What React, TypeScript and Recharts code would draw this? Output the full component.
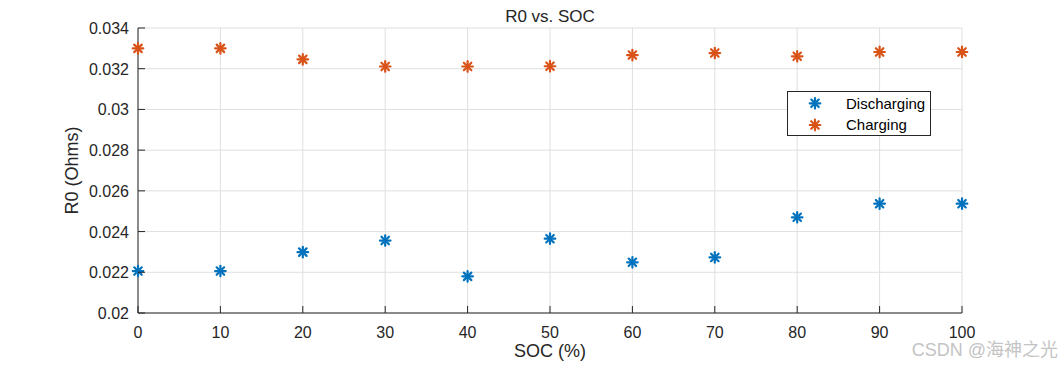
import React from "react";
import { ScatterChart, Scatter, XAxis, YAxis, CartesianGrid, Legend } from "recharts";

// values
const socLevels = [0, 10, 20, 30, 40, 50, 60, 70, 80, 90, 100];
const dischargingR0 = [0.02206, 0.02206, 0.02299, 0.02356, 0.0218, 0.02365, 0.02249, 0.02273, 0.0247, 0.02537, 0.02537];
const chargingR0 = [0.033, 0.033, 0.03246, 0.03211, 0.03211, 0.03212, 0.03267, 0.03277, 0.03261, 0.03282, 0.03282];
const xTicks = [0, 10, 20, 30, 40, 50, 60, 70, 80, 90, 100];
const yTicks = [0.02, 0.022, 0.024, 0.026, 0.028, 0.03, 0.032, 0.034];

const C = {
  text: "#262626",
  axis: "#262626",
  grid: "#dfdfdf",
  blue: "#0072bd",
  orange: "#d95319",
  watermark: "#c4c4c4",
} as const;

const FONT = "'Liberation Sans', Arial, Helvetica, sans-serif";
const W = 1063;
const H = 367;
// plot box
const PL = 138;
const PR = 962;
const PT = 28;
const PB = 313;
const TICK_LEN = 7;

const discharging = socLevels.map((s, i) => ({ soc: s, r0: dischargingR0[i] }));
const charging = socLevels.map((s, i) => ({ soc: s, r0: chargingR0[i] }));

function fmtY(v: number) {
  return String(Number(v.toFixed(3)));
}

function Asterisk(props: any) {
  const { cx, cy, color } = props;
  if (cx == null || cy == null) return null;
  const r = 5.3;
  const d = r * Math.SQRT1_2;
  return (
    <g stroke={color} strokeWidth={2.2} strokeLinecap="round">
      <line x1={cx - r} y1={cy} x2={cx + r} y2={cy} />
      <line x1={cx} y1={cy - r} x2={cx} y2={cy + r} />
      <line x1={cx - d} y1={cy - d} x2={cx + d} y2={cy + d} />
      <line x1={cx - d} y1={cy + d} x2={cx + d} y2={cy - d} />
    </g>
  );
}

function XTick(props: any) {
  const { x, y, payload } = props;
  return (
    <g>
      <line x1={x} y1={y} x2={x} y2={y - TICK_LEN} stroke={C.axis} strokeWidth={1} />
      <text x={x} y={y + 25} textAnchor="middle" fontFamily={FONT} fontSize={16} fill={C.text}>
        {payload.value}
      </text>
    </g>
  );
}

function YTick(props: any) {
  const { x, y, payload } = props;
  return (
    <g>
      <line x1={x} y1={y} x2={x + TICK_LEN} y2={y} stroke={C.axis} strokeWidth={1} />
      <text x={x - 9} y={y + 6} textAnchor="end" fontFamily={FONT} fontSize={16} fill={C.text}>
        {fmtY(payload.value)}
      </text>
    </g>
  );
}

function LegendBox() {
  const items = [
    { name: "Discharging", color: C.blue, y: 12.3, base: 18 },
    { name: "Charging", color: C.orange, y: 34, base: 39 },
  ];
  return (
    <svg width={144} height={45} style={{ display: "block" }}>
      <rect x={0.5} y={0.5} width={143} height={44} fill="#fff" stroke={C.axis} strokeWidth={1} />
      {items.map((it) => (
        <g key={it.name}>
          <Asterisk cx={28} cy={it.y} color={it.color} />
          <text x={59} y={it.base} fontFamily={FONT} fontSize={15} fill="#000">
            {it.name}
          </text>
        </g>
      ))}
    </svg>
  );
}

export default function App() {
  const yAxisWidth = 60;
  const xAxisHeight = 40;
  return (
    <div style={{ position: "absolute", left: 0, top: 0, width: W, height: H, background: "#fff" }}>
      <ScatterChart
        width={W}
        height={H}
        margin={{ top: PT, right: W - PR, bottom: H - PB - xAxisHeight, left: PL - yAxisWidth }}
      >
        <CartesianGrid stroke={C.grid} strokeWidth={1} />
        <XAxis
          type="number"
          dataKey="soc"
          domain={[0, 100]}
          ticks={xTicks}
          height={xAxisHeight}
          tickSize={0}
          tickMargin={0}
          tickLine={false}
          axisLine={{ stroke: C.axis, strokeWidth: 1 }}
          tick={<XTick />}
          interval={0}
        />
        <YAxis
          type="number"
          dataKey="r0"
          domain={[0.02, 0.034]}
          ticks={yTicks}
          width={yAxisWidth}
          tickSize={0}
          tickMargin={0}
          tickLine={false}
          axisLine={{ stroke: C.axis, strokeWidth: 1 }}
          tick={<YTick />}
          interval={0}
        />
        <Legend
          layout="horizontal"
          verticalAlign="middle"
          align="center"
          content={() => <LegendBox />}
          wrapperStyle={{ left: 787, top: 91, width: 144, height: 45 }}
        />
        <Scatter
          name="Discharging"
          data={discharging}
          fill={C.blue}
          isAnimationActive={false}
          shape={(p: any) => <Asterisk {...p} color={C.blue} />}
        />
        <Scatter
          name="Charging"
          data={charging}
          fill={C.orange}
          isAnimationActive={false}
          shape={(p: any) => <Asterisk {...p} color={C.orange} />}
        />
      </ScatterChart>
      <svg
        width={W}
        height={H}
        style={{ position: "absolute", left: 0, top: 0, pointerEvents: "none" }}
      >
        <text x={(PL + PR) / 2} y={22} textAnchor="middle" fontFamily={FONT} fontSize={17} fill={C.text}>
          R0 vs. SOC
        </text>
        <text x={(PL + PR) / 2} y={357} textAnchor="middle" fontFamily={FONT} fontSize={18} fill={C.text}>
          SOC (%)
        </text>
        <text
          x={78}
          y={(PT + PB) / 2}
          transform={`rotate(-90 78 ${(PT + PB) / 2})`}
          textAnchor="middle"
          fontFamily={FONT}
          fontSize={18}
          fill={C.text}
        >
          R0 (Ohms)
        </text>
        <text
          x={1058}
          y={356}
          textAnchor="end"
          fontFamily={`${FONT}, 'Noto Sans CJK SC'`}
          fontSize={18}
          fill={C.watermark}
        >
          CSDN @海神之光
        </text>
      </svg>
    </div>
  );
}
